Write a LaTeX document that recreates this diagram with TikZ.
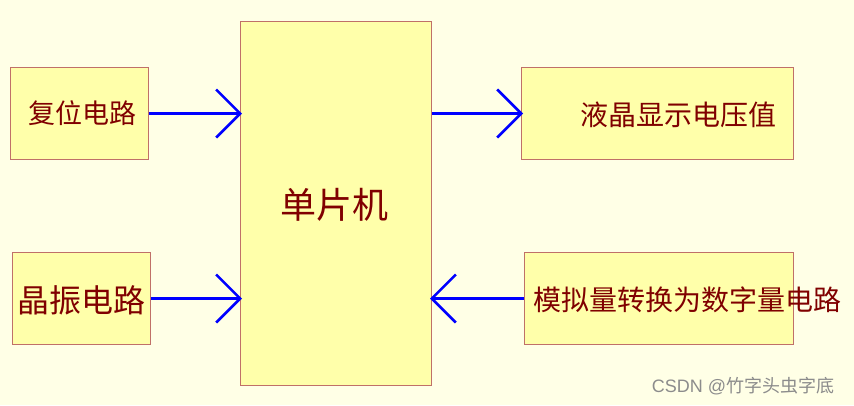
\documentclass[tikz,border=0pt]{standalone}
\usepackage{fontspec}
\setmainfont{Noto Sans CJK SC}
\newfontfamily\wmfont{Liberation Sans}
\usetikzlibrary{arrows.meta}
\definecolor{bgc}{HTML}{FFFFE6}
\definecolor{boxc}{HTML}{FFFFAA}
\definecolor{edgec}{HTML}{C07068}
\definecolor{txtc}{HTML}{800000}
\definecolor{wmc}{HTML}{8C8C8C}
\tikzset{
  blk/.style={draw=edgec, fill=boxc, line width=1pt, inner sep=0pt, anchor=north west},
  lbl/.style={text=txtc, inner sep=0pt},
  arr/.style={draw={rgb,255:red,0;green,0;blue,255}, line width=2.6pt, shorten >=-2pt, -{Straight Barb[length=24pt,width=48pt,line width=2.6pt]}},
}
\begin{document}
\begin{tikzpicture}[x=1pt,y=-1pt]
\fill[bgc] (0,0) rectangle (854,405);
\useasboundingbox (0,0) rectangle (854,405);
\node[blk, minimum width=138pt, minimum height=92pt] (reset) at (10,67) {};
\node[blk, minimum width=191pt, minimum height=364pt] (mcu) at (240,21) {};
\node[blk, minimum width=272pt, minimum height=92pt] (lcd) at (521,67) {};
\node[blk, minimum width=138pt, minimum height=92pt] (xtal) at (12,252) {};
\node[blk, minimum width=269pt, minimum height=92pt] (adc) at (524,252) {};
\node[lbl, font=\fontsize{27}{27}\selectfont] (treset) at (82,113) {复位电路};
\node[lbl, font=\fontsize{36}{36}\selectfont] (tmcu) at (334,205) {单片机};
\node[lbl, font=\fontsize{28}{28}\selectfont] (tlcd) at (678,115) {液晶显示电压值};
\node[lbl, font=\fontsize{32}{32}\selectfont] (txtal) at (81,300) {晶振电路};
\node[lbl, font=\fontsize{28}{28}\selectfont] (tadc) at (687,300) {模拟量转换为数字量电路};
\node[text=wmc, font=\wmfont\fontsize{18}{18}\selectfont, inner sep=0pt] (wm) at (743,386) {CSDN @{\rmfamily 竹字头虫字底}};
\draw[arr] (reset.east) -- (reset.east -| mcu.west);
\draw[arr] (xtal.east) -- (xtal.east -| mcu.west);
\draw[arr] (lcd.west -| mcu.east) -- (lcd.west);
\draw[arr] (adc.west) -- (adc.west -| mcu.east);
\end{tikzpicture}
\end{document}
